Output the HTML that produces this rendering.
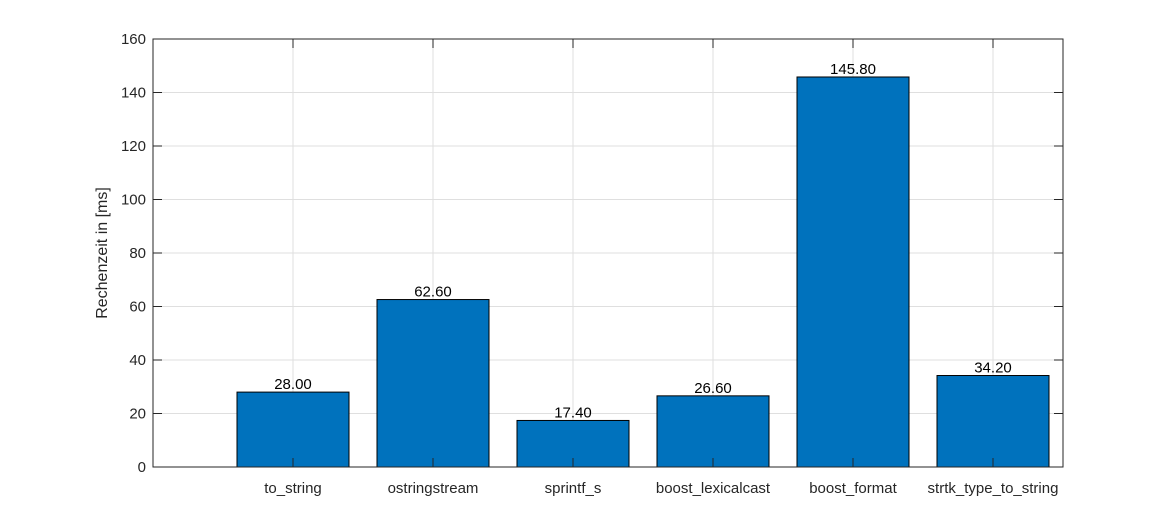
<!DOCTYPE html>
<html><head><meta charset="utf-8"><style>
body{margin:0;background:#fff;}
svg text{font-family:"Liberation Sans",Arial,sans-serif;}
</style></head><body>
<svg id="chart" width="1176" height="525" xmlns="http://www.w3.org/2000/svg"></svg>
<script>
const categories=["to_string","ostringstream","sprintf_s","boost_lexicalcast","boost_format","strtk_type_to_string"];
const values=[28.00,62.60,17.40,26.60,145.80,34.20];
const yTicks=[0,20,40,60,80,100,120,140,160];
const L=153,R=1063,T=39,B=467,xMax=6.5,yMax=160;
const xs=v=>L+(R-L)*v/xMax, ys=v=>B-(B-T)*v/yMax;
const svg=document.getElementById('chart');
const NS="http://www.w3.org/2000/svg";
function mk(tag,attrs,parent){const e=document.createElementNS(NS,tag);for(const k in attrs)e.setAttribute(k,attrs[k]);(parent||svg).appendChild(e);return e;}
mk('rect',{x:L,y:T,width:R-L,height:B-T,fill:'#fff'});
const grid=mk('g',{});


yTicks.forEach(t=>{mk('line',{x1:L,x2:R,y1:ys(t),y2:ys(t),stroke:'#dfdfdf','stroke-width':1},grid);});
categories.forEach((c,i)=>{mk('line',{x1:xs(i+1),x2:xs(i+1),y1:T,y2:B,stroke:'#dfdfdf','stroke-width':1},grid);});
const bw=(R-L)/xMax*0.8;
values.forEach((v,i)=>{
 const r=mk('rect',{x:xs(i+1)-bw/2,y:ys(v),width:bw,height:B-ys(v),fill:'#0072bd',stroke:'#000','stroke-width':1});
 
 
 const t=mk('text',{x:xs(i+1),y:ys(v)-3,'text-anchor':'middle','font-size':15,fill:'#000'});
 t.textContent=v.toFixed(2);
 
 
 const xl=mk('text',{x:xs(i+1),y:B+26,'text-anchor':'middle','font-size':15,fill:'#262626'});
 xl.textContent=categories[i];
 
 
 mk('line',{x1:xs(i+1),x2:xs(i+1),y1:B,y2:B-9,stroke:'#262626'});
 mk('line',{x1:xs(i+1),x2:xs(i+1),y1:T,y2:T+9,stroke:'#262626'});
});
yTicks.forEach(t=>{
 mk('line',{x1:L,x2:L+9,y1:ys(t),y2:ys(t),stroke:'#262626'});
 mk('line',{x1:R,x2:R-9,y1:ys(t),y2:ys(t),stroke:'#262626'});
 const tl=mk('text',{x:L-7,y:ys(t)+5,'text-anchor':'end','font-size':15,fill:'#262626'});
 tl.textContent=t;
 
 
});
const ax=mk('rect',{x:L,y:T,width:R-L,height:B-T,fill:'none',stroke:'#262626','stroke-width':1});


const yt=mk('text',{x:0,y:0,transform:`translate(107,${(T+B)/2}) rotate(-90)`,'text-anchor':'middle','font-size':16,fill:'#262626'});
yt.textContent='Rechenzeit in [ms]';


</script>
</body></html>
